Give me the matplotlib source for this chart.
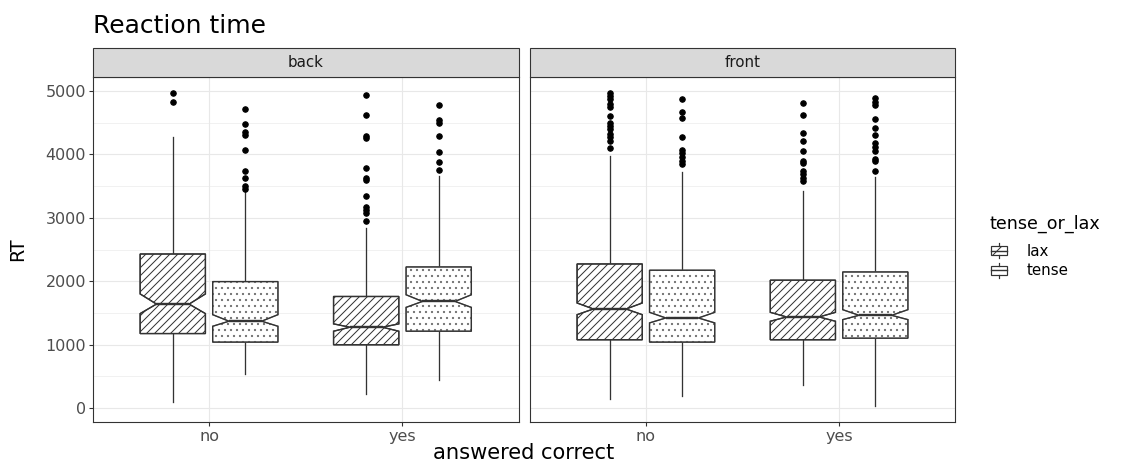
import matplotlib
matplotlib.use("Agg")
import matplotlib.pyplot as plt
from matplotlib.patches import Rectangle, PathPatch
from matplotlib.lines import Line2D
from matplotlib.legend_handler import HandlerBase

# ---------------- data ----------------
facets = ["back", "front"]
answers = ["no", "yes"]
groups = ["lax", "tense"]
hatches = {"lax": "///", "tense": ".."}
hatch_colors = {"lax": "#333333", "tense": "#707070"}
legend_hatches = {"lax": "/", "tense": ""}

# order inside each facet: (no, lax), (no, tense), (yes, lax), (yes, tense)
back_q1 = [1175, 1040, 998, 1212]
back_med = [1640, 1370, 1275, 1682]
back_q3 = [2430, 1995, 1760, 2226]
back_lo = [90, 530, 220, 439]
back_hi = [4270, 3405, 2848, 3668]
back_cilo = [1490, 1290, 1212, 1588]
back_cihi = [1800, 1473, 1328, 1787]
back_out = [
    [4975, 4830],
    [4713, 4478, 4347, 4310, 4070, 3735, 3632, 3495, 3460],
    [4937, 4629, 4284, 4258, 3782, 3632, 3600, 3339, 3171, 3119, 3077, 2951],
    [4776, 4541, 4504, 4290, 4044, 3887, 3751],
]

front_q1 = [1077, 1040, 1077, 1102]
front_med = [1563, 1421, 1437, 1463]
front_q3 = [2273, 2174, 2017, 2147]
front_lo = [141, 193, 360, 27]
front_hi = [3981, 3720, 3417, 3652]
front_cilo = [1473, 1343, 1369, 1395]
front_cihi = [1657, 1510, 1510, 1552]
front_out = [
    [4964, 4922, 4870, 4792, 4749, 4608, 4503, 4451, 4399, 4321, 4268, 4216, 4102],
    [4870, 4676, 4577, 4268, 4075, 4017, 3966, 3903, 3851],
    [4812, 4619, 4331, 4216, 4060, 3903, 3861, 3746, 3694, 3632, 3574],
    [4895, 4832, 4776, 4566, 4425, 4310, 4174, 4122, 4060, 3929, 3892, 3746],
]

y_ticks = [0, 1000, 2000, 3000, 4000, 5000]

facet_data = {
    "back": (back_q1, back_med, back_q3, back_lo, back_hi, back_cilo, back_cihi, back_out),
    "front": (front_q1, front_med, front_q3, front_lo, front_hi, front_cilo, front_cihi, front_out),
}

# ---------------- styling ----------------
DPI = 72
W, H = 1130, 464
EDGE = "#333333"
GRID = "#e8e8e8"
TICKC = "#4d4d4d"
plt.rcParams["font.family"] = ["DejaVu Sans"]
plt.rcParams["hatch.linewidth"] = 1.0
plt.rcParams["hatch.color"] = EDGE

fig = plt.figure(figsize=(W / DPI, H / DPI), dpi=DPI)


def rect(l, t, r, b):
    return [l / W, 1 - b / H, (r - l) / W, (b - t) / H]


panel_boxes = [(93, 77, 518.5, 422), (530, 77, 955, 422)]
strip_h = 29  # pixels

dodge = 0.1875
box_w = 0.3375

for i, facet in enumerate(facets):
    l, t, r, b = panel_boxes[i]
    ax = fig.add_axes(rect(l, t, r, b))
    q1, med, q3, lo, hi, cilo, cihi, out = facet_data[facet]
    stats = []
    positions = []
    box_groups = []
    k = 0
    for a_i, ans in enumerate(answers):
        for g_i, grp in enumerate(groups):
            stats.append(dict(q1=q1[k], med=med[k], q3=q3[k], whislo=lo[k],
                              whishi=hi[k], cilo=cilo[k], cihi=cihi[k],
                              fliers=out[k], label=f"{ans}-{grp}"))
            positions.append(a_i + 1 + (dodge if g_i else -dodge))
            box_groups.append(grp)
            k += 1
    bp = ax.bxp(stats, positions=positions, widths=box_w, patch_artist=True,
                shownotches=True, showcaps=False, manage_ticks=False,
                boxprops=dict(facecolor="white", edgecolor=EDGE, linewidth=1.3),
                medianprops=dict(color=EDGE, linewidth=2.4),
                whiskerprops=dict(color=EDGE, linewidth=1.3),
                flierprops=dict(marker="o", markerfacecolor="black",
                                markeredgecolor="black", markersize=5.5,
                                linestyle="none"))
    for patch, grp in zip(bp["boxes"], box_groups):
        patch.set_hatch(hatches[grp])
        patch.set_edgecolor(hatch_colors[grp])
        patch.set_zorder(3)
        # crisp dark outline on top of the hatched fill
        ax.add_patch(PathPatch(patch.get_path(), transform=patch.get_transform(),
                               fill=False, edgecolor=EDGE, linewidth=1.3,
                               zorder=3.5))
    for ln in bp["medians"]:
        ln.set_zorder(4)

    ax.set_xlim(0.4, 2.6)
    ax.set_ylim(-220, 5222)
    ax.set_xticks([1, 2])
    ax.set_xticklabels(answers)
    ax.set_yticks(y_ticks)
    ax.set_yticks([500, 1500, 2500, 3500, 4500], minor=True)
    ax.set_axisbelow(True)
    ax.grid(True, which="major", color=GRID, linewidth=1.1)
    ax.grid(True, which="minor", axis="y", color=GRID, linewidth=0.6)
    ax.tick_params(axis="both", which="major", length=4, width=1.1, color=EDGE,
                   labelsize=16, labelcolor=TICKC, pad=3)
    ax.tick_params(axis="both", which="minor", length=0)
    if i == 0:
        ax.set_yticklabels([str(v) for v in y_ticks])
    else:
        ax.tick_params(axis="y", which="both", left=False, labelleft=False)
    for sp in ax.spines.values():
        sp.set_color(EDGE)
        sp.set_linewidth(1.1)

    # facet strip
    sh = strip_h / (b - t)
    ax.add_patch(Rectangle((0, 1), 1, sh, transform=ax.transAxes,
                           facecolor="#d9d9d9", edgecolor=EDGE, linewidth=1.1,
                           clip_on=False, zorder=5))
    ax.text(0.5, 1 + sh / 2, facet, transform=ax.transAxes, ha="center",
            va="center", fontsize=15, color="#1a1a1a", zorder=6)

# titles
fig.text(93 / W, 1 - 26 / H, "Reaction time", fontsize=25, color="black",
         ha="left", va="center")
fig.text(18 / W, 1 - 249.5 / H, "RT", fontsize=19, rotation=90,
         ha="center", va="center", color="black")
fig.text(524 / W, 1 - 453 / H, "answered correct", fontsize=21,
         ha="center", va="center", color="black")


# legend with boxplot glyphs
class BoxGlyph(HandlerBase):
    def create_artists(self, legend, orig_handle, xdescent, ydescent,
                       width, height, fontsize, trans):
        x0 = -xdescent
        y0 = -ydescent
        cx = x0 + width / 2
        box = Rectangle((x0, y0 + height * 0.2), width, height * 0.6,
                        facecolor="white", edgecolor=EDGE, linewidth=1.2,
                        hatch=orig_handle.get_hatch(), transform=trans)
        med = Line2D([x0, x0 + width], [y0 + height / 2] * 2, color=EDGE,
                     linewidth=1.4, transform=trans)
        w1 = Line2D([cx, cx], [y0 + height * 0.8, y0 + height],
                    color=EDGE, linewidth=1.2, transform=trans)
        w2 = Line2D([cx, cx], [y0, y0 + height * 0.2],
                    color=EDGE, linewidth=1.2, transform=trans)
        return [box, med, w1, w2]


fig.text(990 / W, 1 - 224 / H, "tense_or_lax", fontsize=17.5,
         ha="left", va="center", color="black")
handles = [Rectangle((0, 0), 1, 1, hatch=legend_hatches[g]) for g in groups]
leg = fig.legend(handles, groups, handler_map={Rectangle: BoxGlyph()},
                 loc="upper left", bbox_to_anchor=(991 / W, 1 - 243 / H),
                 frameon=False, fontsize=15, handlelength=1.05,
                 handleheight=1.2, handletextpad=1.3, labelspacing=0.25,
                 borderaxespad=0, borderpad=0)

fig.savefig("out.png", dpi=DPI)
